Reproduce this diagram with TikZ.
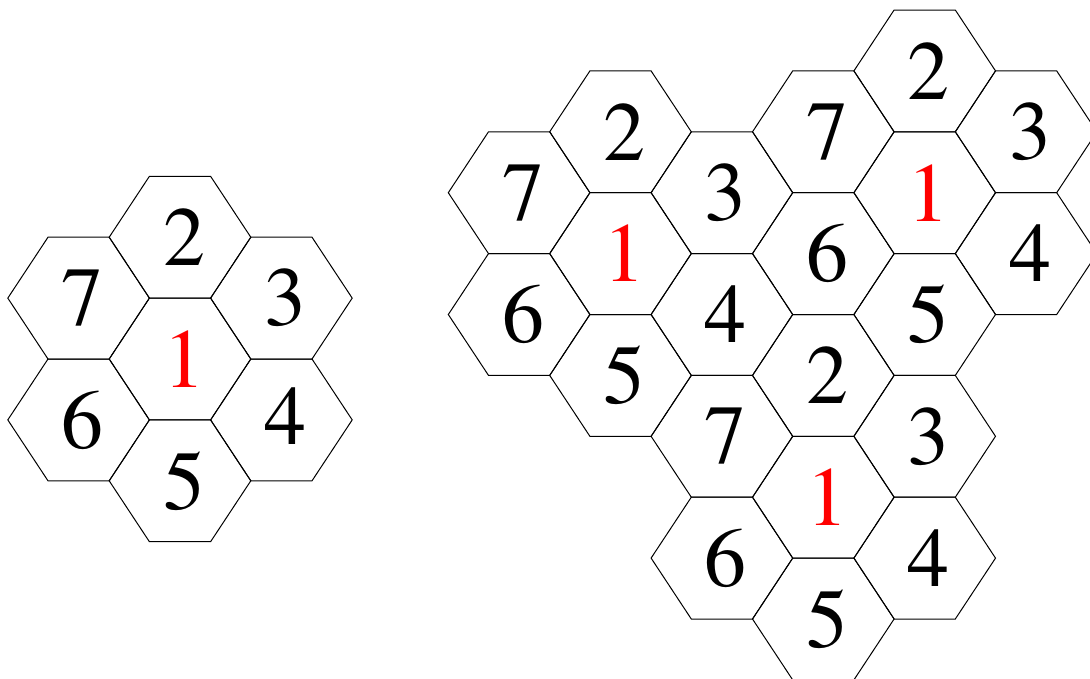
\documentclass[tikz,border=0pt]{standalone}
\usepackage{fontspec}
\newfontfamily\timesdigits{texgyretermes-regular.otf}
\newcommand\hexcellx[5]{%
  \begin{scope}[shift={(#1,#2)}]
    \draw[hexline] (-70.8,0) -- (-30.6,-60.9) -- (30.6,-60.9) -- (70.8,0) -- (30.6,60.9) -- (-30.6,60.9) -- cycle;
    \node[#4] (#3) at (0,0) {#5};
  \end{scope}}
\begin{document}
\begin{tikzpicture}[x=1pt,y=-1pt,
  hexline/.style={line width=1pt, line join=miter, draw=black},
  digit/.style={font=\timesdigits\fontsize{84}{84}\selectfont, inner sep=0pt, text=black, xshift=4pt},
  hot/.style={digit, text=red}]
\useasboundingbox (0,0) rectangle (1090,678);
\clip (0,0) rectangle (1090,678);
% left cluster
\hexcellx{180}{359}{L1}{hot}{1}
\hexcellx{180}{237.2}{L2}{digit}{2}
\hexcellx{281.4}{298.1}{L3}{digit}{3}
\hexcellx{281.4}{419.9}{L4}{digit,yshift=4pt}{4}
\hexcellx{180}{480.8}{L5}{digit}{5}
\hexcellx{78.6}{419.9}{L6}{digit}{6}
\hexcellx{78.6}{298.1}{L7}{digit}{7}
% right cluster, column 0
\hexcellx{519.1}{192.7}{Ra}{digit}{7}
\hexcellx{519.1}{314.5}{Rb}{digit}{6}
% column 1
\hexcellx{620.5}{131.8}{Rc}{digit}{2}
\hexcellx{620.5}{253.6}{Rd}{hot}{1}
\hexcellx{620.5}{375.4}{Re}{digit}{5}
% column 2
\hexcellx{721.9}{192.7}{Rf}{digit}{3}
\hexcellx{721.9}{314.5}{Rg}{digit}{4}
\hexcellx{721.9}{436.3}{Rh}{digit}{7}
\hexcellx{721.9}{558.1}{Ri}{digit}{6}
% column 3
\hexcellx{823.3}{131.8}{Rj}{digit}{7}
\hexcellx{823.3}{253.6}{Rk}{digit}{6}
\hexcellx{823.3}{375.4}{Rl}{digit}{2}
\hexcellx{823.3}{497.2}{Rm}{hot}{1}
\hexcellx{823.3}{619.0}{Rn}{digit}{5}
% column 4
\hexcellx{924.7}{70.9}{Ro}{digit}{2}
\hexcellx{924.7}{192.7}{Rp}{hot}{1}
\hexcellx{924.7}{314.5}{Rq}{digit}{5}
\hexcellx{924.7}{436.3}{Rr}{digit}{3}
\hexcellx{924.7}{558.1}{Rs}{digit}{4}
% column 5
\hexcellx{1026.1}{131.8}{Rt}{digit}{3}
\hexcellx{1026.1}{253.6}{Ru}{digit}{4}
\end{tikzpicture}
\end{document}
